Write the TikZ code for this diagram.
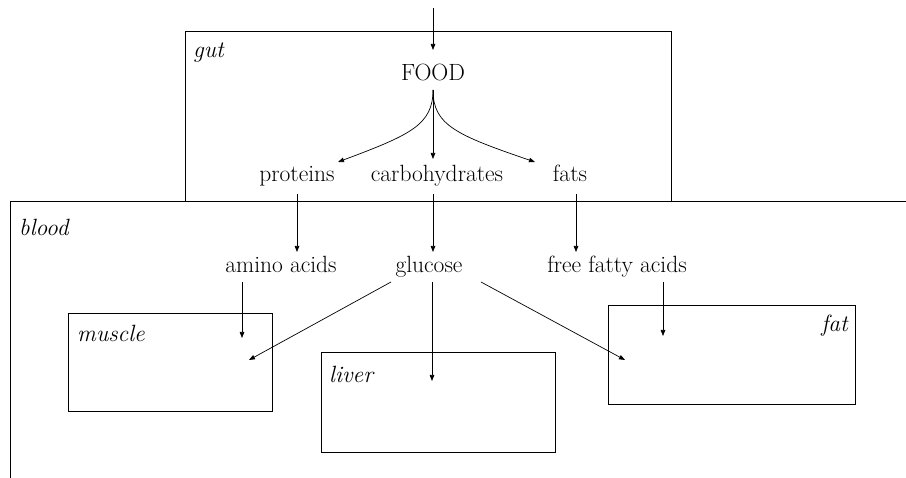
\documentclass[tikz,border=0pt]{standalone}
\usetikzlibrary{arrows.meta}
\begin{document}
\begin{tikzpicture}[x=1pt,y=-1pt,
  txt/.style={font=\fontsize{23.5}{28}\selectfont, inner sep=0pt, anchor=base},
  lbl/.style={font=\fontsize{23.5}{28}\selectfont\itshape, inner sep=0pt},
  arr/.style={line width=0.7pt, -{Triangle[length=6pt,width=4.5pt]}},
  box/.style={draw, line width=0.9pt}]
\useasboundingbox (0,0) rectangle (906,478);
% regions
\draw[box] (185,31) rectangle (671,201);
\draw[line width=0.9pt] (10.5,478) -- (10.5,201) -- (906,201);
\draw[box] (68,313) rectangle (272,411);
\draw[box] (321,352) rectangle (555,452);
\draw[box] (608,305) rectangle (855,404);
% labels
\node[lbl, anchor=west] (gut) at (193,53) {gut};
\node[lbl, anchor=west] (blood) at (19,227) {blood};
\node[lbl, anchor=west] (muscle) at (77,333) {muscle};
\node[lbl, anchor=west] (liver) at (329,374) {liver};
\node[lbl, anchor=east] (fatl) at (848,326) {fat};
% texts
\node[txt] (food) at (433,81) {FOOD};
\node[txt] (prot) at (297,182) {proteins};
\node[txt] (carb) at (437,182) {carbohydrates};
\node[txt] (fats) at (570,182) {fats};
\node[txt] (amino) at (281,273) {amino acids};
\node[txt] (gluc) at (429,273) {glucose};
\node[txt] (ffa) at (617,273) {free fatty acids};
% coordinates
\coordinate (in) at (433,8);
\coordinate (foodin) at (433,50);
\coordinate (fb) at (433,90);
\coordinate (protin) at (338,162);
\coordinate (carbin) at (433,159);
\coordinate (fatsin) at (535,162);
\coordinate (p1) at (297,194);
\coordinate (p2) at (297,252);
\coordinate (c1) at (433,194);
\coordinate (c2) at (433,252);
\coordinate (f1) at (576,194);
\coordinate (f2) at (576,252);
\coordinate (a1) at (242,282);
\coordinate (a2) at (242,338);
\coordinate (g1) at (391,282);
\coordinate (g2) at (249,360);
\coordinate (g3) at (432,282);
\coordinate (g4) at (432,381);
\coordinate (g5) at (481,282);
\coordinate (g6) at (625,360);
\coordinate (x1) at (663,282);
\coordinate (x2) at (663,336);
% connectors
\draw[arr] (in) -- (foodin);
\draw[arr] (fb) -- (carbin);
\draw[arr] (fb) .. controls (433,125) and (410,135) .. (protin);
\draw[arr] (fb) .. controls (433,125) and (456,135) .. (fatsin);
\draw[arr] (p1) -- (p2);
\draw[arr] (c1) -- (c2);
\draw[arr] (f1) -- (f2);
\draw[arr] (a1) -- (a2);
\draw[arr] (g1) -- (g2);
\draw[arr] (g3) -- (g4);
\draw[arr] (g5) -- (g6);
\draw[arr] (x1) -- (x2);
\end{tikzpicture}
\end{document}
